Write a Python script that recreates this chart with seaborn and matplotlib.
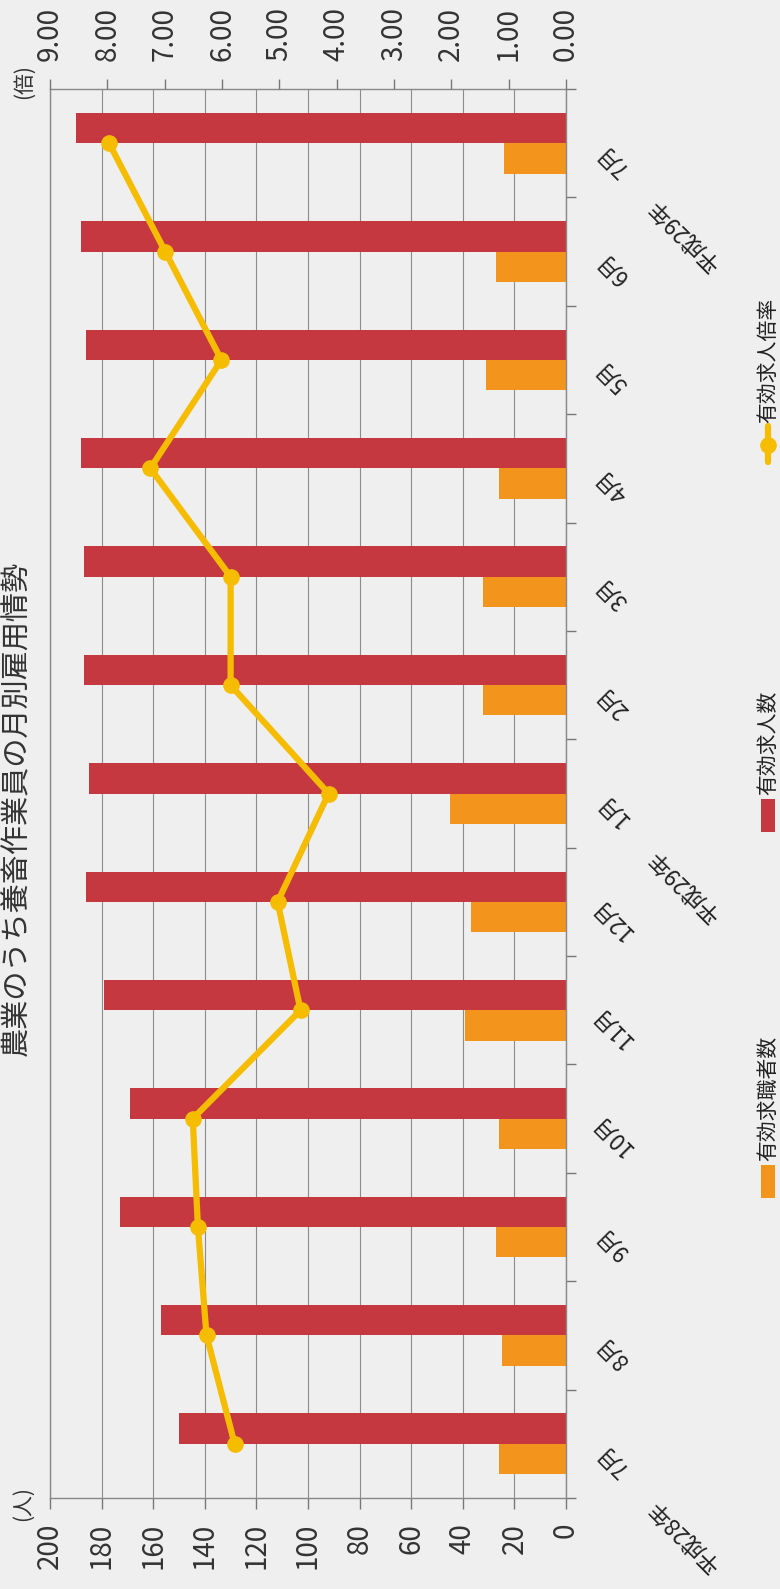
import numpy as np
import pandas as pd
import matplotlib
matplotlib.use("Agg")
import matplotlib.pyplot as plt
import seaborn as sns
from matplotlib.patches import Rectangle
from matplotlib.lines import Line2D
from matplotlib.ticker import FormatStrFormatter

# ---- data ----
months = ["7月", "8月", "9月", "10月", "11月", "12月", "1月", "2月", "3月", "4月", "5月", "6月", "7月"]
month_keys = ["H28-07", "H28-08", "H28-09", "H28-10", "H28-11", "H28-12",
              "H29-01", "H29-02", "H29-03", "H29-04", "H29-05", "H29-06", "H29-07"]
job_seekers = [26, 25, 27, 26, 39, 37, 45, 32, 32, 26, 31, 27, 24]          # 有効求職者数
job_offers = [150, 157, 173, 169, 179, 186, 185, 187, 187, 188, 186, 188, 190]  # 有効求人数
ratio = [5.78, 6.27, 6.42, 6.51, 4.63, 5.03, 4.14, 5.85, 5.85, 7.25, 6.01, 6.99, 7.97]  # 有効求人倍率
year_labels = [(0, "平成28年"), (6, "平成29年"), (12, "平成29年")]
people_ticks = [0, 20, 40, 60, 80, 100, 120, 140, 160, 180, 200]
ratio_ticks = [0, 1, 2, 3, 4, 5, 6, 7, 8, 9]
series_names = ["有効求職者数", "有効求人数"]
line_name = "有効求人倍率"
title = "農業のうち養畜作業員の月別雇用情勢"

# ---- style ----
BG = "#EFEFEF"
RED = "#C63840"
ORANGE = "#F3941C"
GOLD = "#F5BC00"
GRID = "#8C8C8C"

sns.set_theme(style="white")
plt.rcParams["font.family"] = ["Noto Sans CJK JP", "DejaVu Sans"]

W, H = 780, 1589
fx = lambda px: px / W
fy = lambda py: 1 - py / H

fig = plt.figure(figsize=(W / 100, H / 100), dpi=100, facecolor=BG)
L, R, T, B = 50, 566, 89, 1498
ax = fig.add_axes([fx(L), fy(B), fx(R) - fx(L), (B - T) / H])
ax.set_facecolor(BG)

df = pd.DataFrame({
    "key": month_keys * 2,
    "value": job_seekers + job_offers,
    "series": [series_names[0]] * len(months) + [series_names[1]] * len(months),
})
sns.barplot(data=df, x="value", y="key", hue="series", order=month_keys,
            hue_order=series_names, palette=[ORANGE, RED], orient="h",
            width=0.56, saturation=1, linewidth=0, legend=False, ax=ax)

ax.set_xlim(200, 0)
ax.set_ylim(-0.5, len(months) - 0.5)
ax.set_xticks(people_ticks)
ax.set_xticklabels([str(v) for v in people_ticks], rotation=90, fontsize=20, color="#333333")
ax.set_yticks(np.arange(-0.5, len(months), 1.0))
ax.set_yticklabels([])
ax.yaxis.tick_right()
ax.tick_params(axis="y", right=True, left=False, length=7, width=1, color="#777777", direction="out")
ax.tick_params(axis="x", bottom=True, length=8, width=1, color="#777777", direction="out", pad=10)
ax.set_xlabel("")
ax.set_ylabel("")
ax.grid(axis="x", color=GRID, lw=0.8)
ax.grid(axis="y", visible=False)
ax.set_axisbelow(True)
for s in ax.spines.values():
    s.set_color("#888888")
    s.set_linewidth(1)

# ratio axis on top
ax2 = ax.twiny()
ax2.set_xlim(9, 0)
pos = list(range(len(months)))
sns.lineplot(x=ratio, y=pos, orient="y", sort=False, estimator=None, ax=ax2,
             color=GOLD, lw=4.5, marker="o", markersize=12, markeredgewidth=0)
ax2.set_xticks(ratio_ticks)
ax2.xaxis.set_major_formatter(FormatStrFormatter("%.2f"))
ax2.tick_params(axis="x", top=True, length=7, width=1, color="#777777", direction="out",
                labelsize=20, labelcolor="#333333", labelrotation=90, pad=13)
ax2.grid(False)
ax2.set_ylim(-0.5, len(months) - 0.5)
for s in ax2.spines.values():
    s.set_visible(False)

# month labels
for i, m in enumerate(months):
    ax.text(1.09, i - 0.15, m, transform=ax.get_yaxis_transform(), rotation=135,
            ha="center", va="center", fontsize=16, color="#222222")
for i, lab in year_labels:
    ax.text((684 - L) / (R - L), i - 0.84, lab, transform=ax.get_yaxis_transform(),
            rotation=135, ha="center", va="center", fontsize=16, color="#222222")

# unit labels
fig.text(fx(24), fy(82), "(倍)", rotation=90, ha="center", va="center", fontsize=15, color="#333333")
fig.text(fx(23), fy(1504), "(人)", rotation=90, ha="center", va="center", fontsize=15, color="#333333")

# title
fig.text(fx(17), fy(808), title, rotation=90, ha="center", va="center", fontsize=21, color="#333333")

# legend (rotated, drawn manually)
lx = 768
fig.add_artist(Rectangle((fx(lx - 7), fy(1198)), 14 / W, 33 / H, transform=fig.transFigure,
                         facecolor=ORANGE, edgecolor="none"))
fig.text(fx(lx), fy(1161), series_names[0], rotation=90, ha="center", va="bottom", fontsize=15, color="#222222")
fig.add_artist(Rectangle((fx(lx - 7), fy(832)), 14 / W, 33 / H, transform=fig.transFigure,
                         facecolor=RED, edgecolor="none"))
fig.text(fx(lx), fy(795), series_names[1], rotation=90, ha="center", va="bottom", fontsize=15, color="#222222")
fig.add_artist(Line2D([fx(lx), fx(lx)], [fy(462), fy(426)], transform=fig.transFigure,
                      color=GOLD, lw=4.5))
fig.add_artist(Line2D([fx(lx)], [fy(445)], transform=fig.transFigure, color=GOLD,
                      marker="o", markersize=12, markeredgewidth=0, lw=0))
fig.text(fx(lx), fy(423), line_name, rotation=90, ha="center", va="bottom", fontsize=15, color="#222222")

fig.savefig("out.png", dpi=100, facecolor=BG)
